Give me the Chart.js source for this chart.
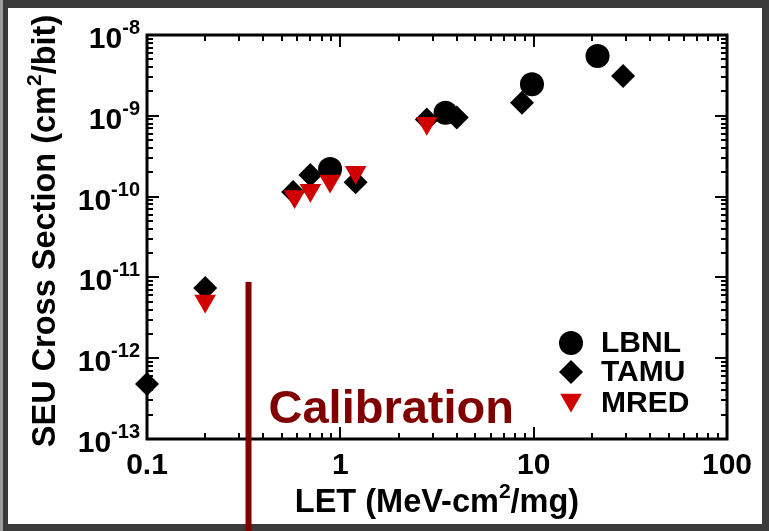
<!DOCTYPE html>
<html>
<head>
  <title>SEU Cross Section vs LET</title>
  <script src="https://cdn.jsdelivr.net/npm/chart.js"></script>
  <style>
    body {
      margin: 0;
      background: #3b3b3b;
    }

    canvas {
      display: block;
    }
  </style>
</head>
<body>
  <canvas id="seuChart" width="769" height="531"></canvas>

  <script>
    // LET (MeV-cm2/mg) and SEU cross section (cm2/bit) for each source
    const lbnlLET = [0.885, 3.5, 9.8, 21.4];
    const lbnlXS = [2.2e-10, 1.09e-9, 2.45e-9, 5.5e-9];
    const tamuLET = [0.1, 0.2, 0.57, 0.7, 1.2, 2.8, 4.0, 8.7, 29];
    const tamuXS = [4.8e-13, 7.4e-12, 1.14e-10, 1.85e-10, 1.5e-10, 9.0e-10, 9.5e-10, 1.45e-9, 3.1e-9];
    const mredLET = [0.2, 0.58, 0.7, 0.885, 1.2, 2.8];
    const mredXS = [5.1e-12, 1.0e-10, 1.2e-10, 1.56e-10, 2.0e-10, 8.1e-10];

    // axis ticks
    const xTickValues = [0.1, 1, 10, 100];
    const xTickLabels = ["0.1", "1", "10", "100"];
    const yTickExponents = [-8, -9, -10, -11, -12, -13];

    // calibration marker
    const calibrationLET = 0.335;
    const calibrationTop = 8.8e-12;

    const FONT = '"Liberation Sans", Arial, sans-serif';
    const RED = "#d00000";
    const DARK_RED = "#800000";

    function toPoints(xs, ys) {
      return xs.map((x, i) => ({ x: x, y: ys[i] }));
    }

    // draws text made of normal and superscript pieces, starting at x
    function drawParts(ctx, parts, x, y, size, supSize, raise) {
      parts.forEach(p => {
        ctx.font = "bold " + (p.sup ? supSize : size) + "px " + FONT;
        ctx.fillText(p.t, x, p.sup ? y - raise : y);
        x += ctx.measureText(p.t).width;
      });
      return x;
    }

    function partsWidth(ctx, parts, size, supSize) {
      let w = 0;
      parts.forEach(p => {
        ctx.font = "bold " + (p.sup ? supSize : size) + "px " + FONT;
        w += ctx.measureText(p.t).width;
      });
      return w;
    }

    const framePlugin = {
      id: "frame",
      beforeDraw(chart) {
        const ctx = chart.ctx;
        ctx.save();
        ctx.fillStyle = "#3b3b3b";
        ctx.fillRect(0, 0, chart.width, chart.height);
        ctx.fillStyle = "#9d9d9b";
        ctx.fillRect(0, 0, 3, chart.height);
        ctx.fillStyle = "#ffffff";
        ctx.fillRect(8, 8, chart.width - 15, chart.height - 15);
        ctx.restore();
      },
      beforeDatasetsDraw(chart) {
        const ctx = chart.ctx;
        const a = chart.chartArea;
        const xs = chart.scales.x;
        const ys = chart.scales.y;
        ctx.save();
        ctx.strokeStyle = "#000";

        // inward ticks on all four sides
        ctx.lineWidth = 2;
        ctx.beginPath();
        for (let k = -1; k <= 2; k++) {
          for (let m = 1; m <= 9; m++) {
            const v = m * Math.pow(10, k);
            if (v > 100.001) break;
            const px = Math.round(xs.getPixelForValue(v));
            const len = m === 1 ? 12 : 6;
            ctx.moveTo(px, a.bottom); ctx.lineTo(px, a.bottom - len);
            ctx.moveTo(px, a.top); ctx.lineTo(px, a.top + len);
          }
        }
        for (let k = -13; k <= -8; k++) {
          for (let m = 1; m <= 9; m++) {
            const v = m * Math.pow(10, k);
            if (k === -8 && m > 1) break;
            const py = Math.round(ys.getPixelForValue(v));
            const len = m === 1 ? 12 : 6;
            ctx.moveTo(a.left, py); ctx.lineTo(a.left + len, py);
            ctx.moveTo(a.right, py); ctx.lineTo(a.right - len, py);
          }
        }
        ctx.stroke();

        ctx.lineWidth = 3;
        ctx.strokeRect(a.left, a.top, a.right - a.left, a.bottom - a.top);

        // tick labels
        ctx.fillStyle = "#000";
        ctx.textBaseline = "alphabetic";
        ctx.textAlign = "center";
        ctx.font = "bold 30px " + FONT;
        xTickValues.forEach((v, i) => {
          ctx.fillText(xTickLabels[i], xs.getPixelForValue(v), a.bottom + 35);
        });
        ctx.textAlign = "left";
        yTickExponents.forEach(e => {
          const py = ys.getPixelForValue(Math.pow(10, e));
          const parts = [{ t: "10" }, { t: String(e), sup: true }];
          const w = partsWidth(ctx, parts, 30, 20);
          drawParts(ctx, parts, a.left - 7 - w, py + 13, 30, 20, 14);
        });

        // axis titles
        const xTitle = [{ t: "LET (MeV-cm" }, { t: "2", sup: true }, { t: "/mg)" }];
        const xw = partsWidth(ctx, xTitle, 32.5, 21);
        drawParts(ctx, xTitle, (a.left + a.right) / 2 - xw / 2, a.bottom + 73, 32.5, 21, 14);

        const yTitle = [{ t: "SEU Cross Section (cm" }, { t: "2", sup: true }, { t: "/bit)" }];
        const yw = partsWidth(ctx, yTitle, 32.5, 21);
        ctx.translate(55, 231);
        ctx.rotate(-Math.PI / 2);
        drawParts(ctx, yTitle, -yw / 2, 0, 32.5, 21, 14);
        ctx.restore();
      },
      afterDraw(chart) {
        const ctx = chart.ctx;
        const a = chart.chartArea;
        const xs = chart.scales.x;
        const ys = chart.scales.y;
        ctx.save();

        // calibration line and label
        const cx = xs.getPixelForValue(calibrationLET);
        ctx.fillStyle = DARK_RED;
        ctx.fillRect(cx - 3, ys.getPixelForValue(calibrationTop), 6, chart.height);
        ctx.font = "bold 47px " + FONT;
        ctx.textAlign = "left";
        ctx.fillText("Calibration", cx + 20, a.bottom - 16);

        // legend
        const lx = a.right - 156;
        const rows = [343, 372, 403];
        chart.data.datasets.forEach((ds, i) => {
          ctx.fillStyle = ds.backgroundColor;
          ctx.strokeStyle = ds.backgroundColor;
          Chart.helpers.drawPoint(ctx, {
            pointStyle: ds.pointStyle,
            rotation: ds.rotation || 0,
            radius: ds.pointRadius,
            borderWidth: 0
          }, lx, rows[i] + (ds.pointStyle === "triangle" ? -3 : 0));
          ctx.fillStyle = "#000";
          ctx.font = "bold 30px " + FONT;
          ctx.textBaseline = "middle";
          ctx.fillText(ds.label, lx + 30, rows[i] + 1);
        });
        ctx.restore();
      }
    };

    const seuChart = new Chart(document.getElementById("seuChart"), {
      type: "scatter",
      data: {
        datasets: [
          {
            label: "LBNL",
            data: toPoints(lbnlLET, lbnlXS),
            pointStyle: "circle",
            pointRadius: 12,
            backgroundColor: "#000",
            borderWidth: 0,
            clip: false,
            order: 3
          },
          {
            label: "TAMU",
            data: toPoints(tamuLET, tamuXS),
            pointStyle: "rectRot",
            pointRadius: 12,
            backgroundColor: "#000",
            borderWidth: 0,
            clip: false,
            order: 2
          },
          {
            label: "MRED",
            data: toPoints(mredLET, mredXS),
            pointStyle: "triangle",
            rotation: 180,
            pointRadius: 12.5,
            backgroundColor: RED,
            borderWidth: 0,
            clip: false,
            order: 1
          }
        ]
      },
      options: {
        responsive: false,
        animation: false,
        layout: {
          padding: { left: 147, right: 42, top: 35, bottom: 92 }
        },
        plugins: {
          legend: { display: false },
          tooltip: { enabled: false }
        },
        scales: {
          x: { type: "logarithmic", min: 0.1, max: 100, display: false },
          y: { type: "logarithmic", min: 1e-13, max: 1e-8, display: false }
        }
      },
      plugins: [framePlugin]
    });
  </script>
</body>
</html>
